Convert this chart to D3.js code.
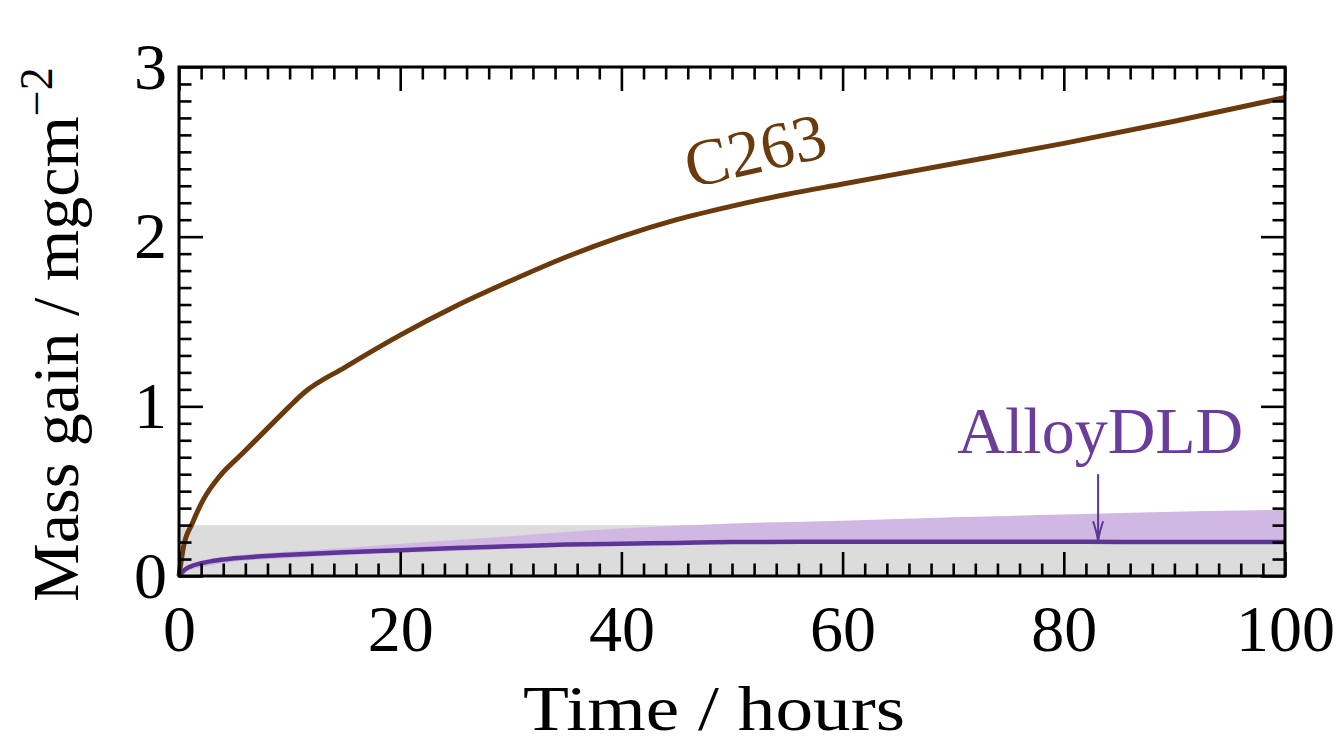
<!DOCTYPE html>
<html>
<head>
<meta charset="utf-8">
<script src="https://cdn.jsdelivr.net/npm/d3@7"></script>
<style>
  html, body { margin: 0; padding: 0; background: #fff; }
  svg { display: block; }
  text { font-family: "Liberation Serif", "DejaVu Serif", serif; }
</style>
</head>
<body>
<svg id="chart" width="1339" height="745"></svg>
<script>
// ---- data ----
const c263Time  = [0, 0.4, 1.2, 2.2, 3.7, 5.7, 8, 10, 11.3, 15, 20, 25, 30, 35, 40, 45, 50, 55, 60, 70, 80, 90, 100];
const c263Mass  = [0, 0.17, 0.31, 0.45, 0.59, 0.72, 0.87, 1.0, 1.08, 1.23, 1.42, 1.59, 1.74, 1.88, 2.0, 2.1, 2.18, 2.25, 2.31, 2.43, 2.55, 2.68, 2.82];

const dldTime   = [0, 0.5, 1, 2, 3, 5, 7.5, 10, 15, 20, 25, 30, 35, 40, 45, 50, 60, 70, 80, 90, 100];
const dldMass   = [0, 0.035, 0.055, 0.075, 0.088, 0.104, 0.116, 0.125, 0.14, 0.152, 0.165, 0.175, 0.185, 0.19, 0.195, 0.2, 0.202, 0.202, 0.202, 0.2, 0.2];

const bandTime  = [0, 1, 2, 5, 10, 16, 20, 30, 34, 40, 50, 60, 70, 80, 87, 100];
const bandUpper = [0, 0.07, 0.09, 0.12, 0.145, 0.17, 0.19, 0.235, 0.255, 0.28, 0.31, 0.325, 0.346, 0.362, 0.375, 0.39];
const bandLower = [0, 0.035, 0.05, 0.085, 0.105, 0.125, 0.135, 0.16, 0.17, 0.18, 0.195, 0.2, 0.2, 0.2, 0.2, 0.2];

const grayBandRange = [0, 0.3];          // shaded reference region (mass gain)
const xMajorTicks = [0, 20, 40, 60, 80, 100];
const yMajorTicks = [0, 1, 2, 3];
const xDomain = [0, 100];
const yDomain = [0, 3];

const labels = {
  x: "Time / hours",
  y: "Mass gain / mgcm",
  ySup: "−2",
  c263: "C263",
  dld: "AlloyDLD"
};
// annotation anchors in data units
const c263Label = { t: 52.1, m: 2.51, angle: -13 };
const dldLabel  = { t: 83.3, m: 0.725 };
const dldArrow  = { t: 83.1, from: 0.6, to: 0.205 };

// ---- layout ----
const L = 179, R = 1285, T = 67, B = 576;
const svg = d3.select("#chart");
const x = d3.scaleLinear().domain(xDomain).range([L, R]);
const y = d3.scaleLinear().domain(yDomain).range([B, T]);

const brown = "#6b3a0c";
const purple = "#5f3497";
const purpleLabel = "#6a3d9a";
const bandFill = "#d0b8e2";
const grayFill = "#dcdcdc";

// gray band
svg.append("rect")
  .attr("x", x(xDomain[0])).attr("width", x(xDomain[1]) - x(xDomain[0]))
  .attr("y", y(grayBandRange[1])).attr("height", y(grayBandRange[0]) - y(grayBandRange[1]))
  .attr("fill", grayFill);

// purple band
const bandData = bandTime.map((t, i) => ({ t, lo: bandLower[i], hi: bandUpper[i] }));
svg.append("path").datum(bandData)
  .attr("fill", bandFill)
  .attr("d", d3.area().x(d => x(d.t)).y0(d => y(d.lo)).y1(d => y(d.hi)).curve(d3.curveMonotoneX));

// purple line
const dldData = dldTime.map((t, i) => ({ t, m: dldMass[i] }));
svg.append("path").datum(dldData)
  .attr("fill", "none").attr("stroke", purple).attr("stroke-width", 4.5)
  .attr("d", d3.line().x(d => x(d.t)).y(d => y(d.m)).curve(d3.curveMonotoneX));

// C263 line
const c263Data = c263Time.map((t, i) => ({ t, m: c263Mass[i] }));
svg.append("path").datum(c263Data)
  .attr("fill", "none").attr("stroke", brown).attr("stroke-width", 5)
  .attr("stroke-linejoin", "round")
  .attr("d", d3.line().x(d => x(d.t)).y(d => y(d.m)).curve(d3.curveMonotoneX));

// ---- axes (ticks inward on all four sides) ----
const xMinor = d3.range(0, 101, 2).filter(v => !xMajorTicks.includes(v));
const yMinor = d3.range(1, 30).map(v => v / 10).filter(v => Math.abs(v - Math.round(v)) > 1e-6);
const MAJ = 24, MIN = 12.5;

function styleAxis(g) {
  g.select(".domain").remove();
  g.selectAll(".tick line").attr("stroke", "#000").attr("stroke-width", 2.6);
  g.selectAll(".tick text").attr("fill", "#000")
    .style("font-family", '"Liberation Serif", "DejaVu Serif", serif')
    .style("font-size", "66px");
}

// bottom
svg.append("g").attr("transform", `translate(0,${B})`)
  .call(d3.axisBottom(x).tickValues(xMajorTicks).tickSize(-MAJ).tickSizeOuter(0).tickPadding(28).tickFormat(d3.format("d")))
  .call(styleAxis);
svg.append("g").attr("transform", `translate(0,${B})`)
  .call(d3.axisBottom(x).tickValues(xMinor).tickSize(-MIN).tickSizeOuter(0).tickFormat(""))
  .call(styleAxis);
// top
svg.append("g").attr("transform", `translate(0,${T})`)
  .call(d3.axisTop(x).tickValues(xMajorTicks).tickSize(-MAJ).tickSizeOuter(0).tickFormat(""))
  .call(styleAxis);
svg.append("g").attr("transform", `translate(0,${T})`)
  .call(d3.axisTop(x).tickValues(xMinor).tickSize(-MIN).tickSizeOuter(0).tickFormat(""))
  .call(styleAxis);
// left
svg.append("g").attr("transform", `translate(${L},0)`)
  .call(d3.axisLeft(y).tickValues(yMajorTicks).tickSize(-MAJ).tickSizeOuter(0).tickPadding(12).tickFormat(d3.format("d")))
  .call(styleAxis);
svg.append("g").attr("transform", `translate(${L},0)`)
  .call(d3.axisLeft(y).tickValues(yMinor).tickSize(-MIN).tickSizeOuter(0).tickFormat(""))
  .call(styleAxis);
// right
svg.append("g").attr("transform", `translate(${R},0)`)
  .call(d3.axisRight(y).tickValues(yMajorTicks).tickSize(-MAJ).tickSizeOuter(0).tickFormat(""))
  .call(styleAxis);
svg.append("g").attr("transform", `translate(${R},0)`)
  .call(d3.axisRight(y).tickValues(yMinor).tickSize(-MIN).tickSizeOuter(0).tickFormat(""))
  .call(styleAxis);

// frame
svg.append("rect")
  .attr("x", L).attr("y", T).attr("width", R - L).attr("height", B - T)
  .attr("fill", "none").attr("stroke", "#000").attr("stroke-width", 3);

// ---- titles ----
svg.append("text")
  .attr("x", (L + R) / 2 - 18).attr("y", 730)
  .attr("text-anchor", "middle")
  .attr("textLength", 382).attr("lengthAdjust", "spacingAndGlyphs")
  .style("font-size", "64px").attr("fill", "#000")
  .text(labels.x);

const yt = svg.append("text")
  .attr("transform", "translate(78,602) rotate(-90)")
  .attr("text-anchor", "start")
  .style("font-size", "66px").attr("fill", "#000");
yt.append("tspan").text(labels.y);
yt.append("tspan").attr("dy", -26).style("font-size", "46px").text(labels.ySup);

// ---- annotations ----
svg.append("text")
  .attr("transform", `translate(${x(c263Label.t)},${y(c263Label.m)}) rotate(${c263Label.angle})`)
  .attr("text-anchor", "middle").attr("dominant-baseline", "central")
  .style("font-size", "66px").attr("fill", brown)
  .text(labels.c263);

svg.append("text")
  .attr("x", x(dldLabel.t)).attr("y", y(dldLabel.m))
  .attr("text-anchor", "middle")
  .style("font-size", "66px").attr("fill", purpleLabel)
  .text(labels.dld);

const ax = x(dldArrow.t), ay0 = y(dldArrow.from), ay1 = y(dldArrow.to);
svg.append("line")
  .attr("x1", ax).attr("x2", ax).attr("y1", ay0).attr("y2", ay1)
  .attr("stroke", purple).attr("stroke-width", 2);
svg.append("path")
  .attr("d", `M${ax - 5},${ay1 - 20} Q${ax - 1},${ay1 - 8} ${ax},${ay1} Q${ax + 1},${ay1 - 8} ${ax + 5},${ay1 - 20}`)
  .attr("fill", "none").attr("stroke", purple).attr("stroke-width", 2);
</script>
</body>
</html>
